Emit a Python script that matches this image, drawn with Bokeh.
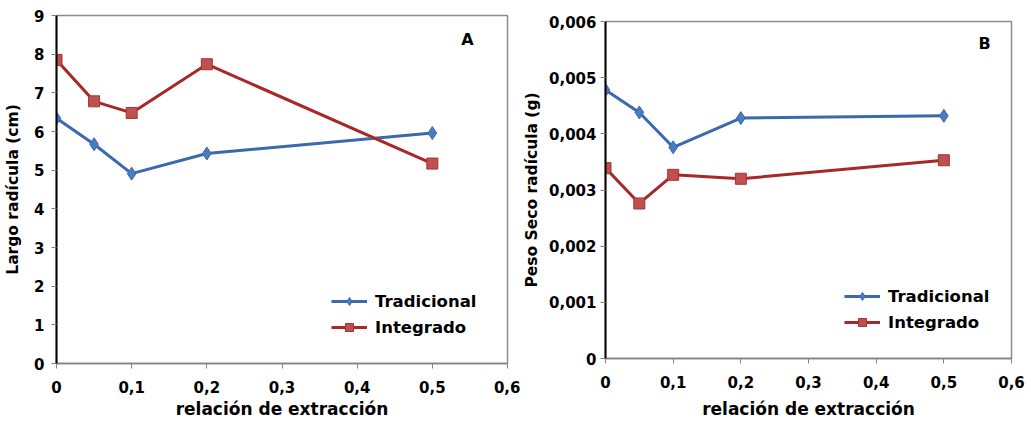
from bokeh.plotting import figure
from bokeh.layouts import row, column
from bokeh.models import FixedTicker, CustomJSTickFormatter, Range1d, Legend, LegendItem, Label
from bokeh.embed import file_html
from bokeh.resources import INLINE

# data
x_vals = [0.0, 0.05, 0.1, 0.2, 0.5]
largo_tradicional = [6.34, 5.67, 4.91, 5.43, 5.96]
largo_integrado = [7.85, 6.78, 6.48, 7.74, 5.17]
peso_tradicional = [0.00478, 0.00438, 0.00376, 0.00428, 0.00432]
peso_integrado = [0.00339, 0.00276, 0.00327, 0.00320, 0.00353]
x_ticks = [0, 0.1, 0.2, 0.3, 0.4, 0.5, 0.6]
yA_ticks = [0, 1, 2, 3, 4, 5, 6, 7, 8, 9]
yB_ticks = [0, 0.001, 0.002, 0.003, 0.004, 0.005, 0.006]
x_title = "relación de extracción"
yA_title = "Largo radícula (cm)"
yB_title = "Peso Seco radícula (g)"

FONT = "DejaVu Sans"
BLUE_LINE = "#3a69ad"
BLUE_MARK = "#4a7cc0"
RED_LINE = "#a8282a"
RED_MARK = "#c0504d"
RED_EDGE = "#a03535"

xfmt = CustomJSTickFormatter(code="return tick == 0 ? '0' : tick.toFixed(1).replace('.', ',');")


def make_fig(width, borders, ymax, yticks, yfmt_code, ytitle, letter, letter_pos, leg_loc,
             ytrad, yint, ytick_standoff, ylab_standoff, xtick_standoff, xlab_standoff):
    bl, br, bt, bb = borders
    p = figure(width=width, height=422, output_backend="svg", toolbar_location=None,
               x_range=Range1d(0, 0.6), y_range=Range1d(0, ymax),
               min_border_left=bl, min_border_right=br, min_border_top=bt, min_border_bottom=bb)
    p.xgrid.visible = False
    p.ygrid.visible = False
    p.outline_line_color = "#8c8c8c"
    p.outline_line_width = 1.5
    p.background_fill_color = "white"
    p.border_fill_color = "white"

    for ax in (p.xaxis[0], p.yaxis[0]):
        ax.major_label_text_font = FONT
        ax.major_label_text_font_style = "bold"
        ax.major_label_text_font_size = "15px"
        ax.major_label_text_color = "black"
        ax.axis_label_text_font = FONT
        ax.axis_label_text_font_style = "bold"
        ax.axis_label_text_color = "black"
        ax.minor_tick_line_color = None
        ax.major_tick_in = 0
        ax.major_tick_out = 5
        ax.major_tick_line_color = "#808080"
    p.xaxis.ticker = FixedTicker(ticks=x_ticks)
    p.xaxis.formatter = xfmt
    p.xaxis.axis_label = x_title
    p.xaxis.axis_label_text_font_size = "17px"
    p.xaxis.axis_line_color = "#808080"
    p.xaxis.axis_line_width = 1.5
    p.xaxis.major_label_standoff = xtick_standoff
    p.xaxis.axis_label_standoff = xlab_standoff

    p.yaxis.ticker = FixedTicker(ticks=yticks)
    p.yaxis.formatter = CustomJSTickFormatter(code=yfmt_code)
    p.yaxis.axis_label = ytitle
    p.yaxis.axis_label_text_font_size = "15.5px"
    p.yaxis.axis_line_color = "black"
    p.yaxis.axis_line_width = 2
    p.yaxis.major_label_standoff = ytick_standoff
    p.yaxis.axis_label_standoff = ylab_standoff

    l1 = p.line(x_vals, ytrad, line_color=BLUE_LINE, line_width=3)
    m1 = p.scatter(x_vals, ytrad, marker="diamond", size=13, fill_color=BLUE_MARK, line_color=BLUE_LINE, line_width=1)
    l2 = p.line(x_vals, yint, line_color=RED_LINE, line_width=3)
    m2 = p.scatter(x_vals, yint, marker="square", size=11, fill_color=RED_MARK, line_color=RED_EDGE, line_width=1)

    legend = Legend(items=[LegendItem(label="Tradicional", renderers=[l1, m1]),
                           LegendItem(label="Integrado", renderers=[l2, m2])],
                    location=leg_loc, background_fill_alpha=0, border_line_color=None,
                    padding=0, margin=0, spacing=6, glyph_width=36, glyph_height=20,
                    label_height=20, label_standoff=8,
                    label_text_font=FONT, label_text_font_style="bold", label_text_font_size="16.5px",
                    label_text_color="black")
    p.add_layout(legend, "center")

    p.add_layout(Label(x=letter_pos[0], y=letter_pos[1], x_units="screen", y_units="screen",
                       text=letter, text_font=FONT, text_font_style="bold", text_font_size="16px",
                       text_color="black", text_align="center", text_baseline="middle"))
    return p


pA = make_fig(520, (56, 13, 15, 59), 9, yA_ticks,
              "return tick.toFixed(0);",
              yA_title, "A", (411, 324), (275, 26), largo_tradicional, largo_integrado,
              7, 9, 12, 3)
pB = make_fig(511, (84, 20, 21, 64), 0.006, yB_ticks,
              "return tick == 0 ? '0' : tick.toFixed(3).replace('.', ',');",
              yB_title, "B", (379, 315), (239, 26), peso_tradicional, peso_integrado,
              4, 5, 12, 8)

layout = row(column(pA), column(pB))
open("out.html", "w").write(file_html(layout, INLINE))
